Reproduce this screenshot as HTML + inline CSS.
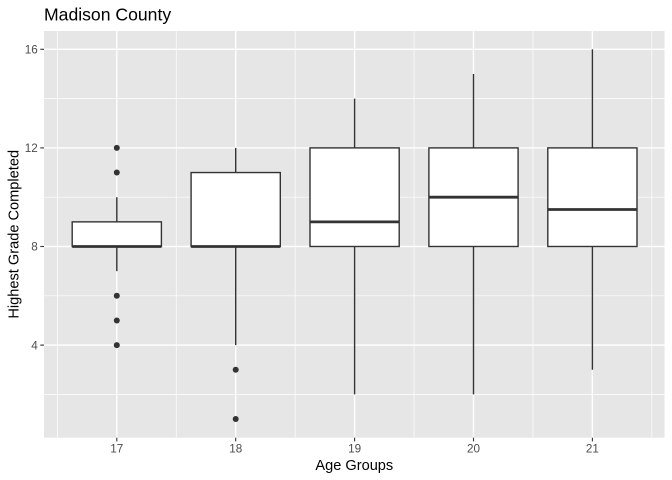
<!DOCTYPE html>
<html><head><meta charset="utf-8"><style>
html,body{margin:0;padding:0;background:#fff;}
svg{display:block;}
text{font-family:"Liberation Sans",Arial,sans-serif;}
</style></head><body>
<svg width="672" height="480" viewBox="0 0 672 480" xmlns="http://www.w3.org/2000/svg">
<rect x="0" y="0" width="672" height="480" fill="#fff"/>
<rect x="44" y="31" width="620.5" height="406.7" fill="#E6E6E6"/>
<g stroke="#fff" stroke-width="0.7">
<line x1="44" x2="664.5" y1="98.6" y2="98.6"/>
<line x1="44" x2="664.5" y1="197.2" y2="197.2"/>
<line x1="44" x2="664.5" y1="295.8" y2="295.8"/>
<line x1="44" x2="664.5" y1="394.4" y2="394.4"/>
<line y1="31" y2="437.7" x1="57.35" x2="57.35"/>
<line y1="31" y2="437.7" x1="176.25" x2="176.25"/>
<line y1="31" y2="437.7" x1="295.15" x2="295.15"/>
<line y1="31" y2="437.7" x1="414.05" x2="414.05"/>
<line y1="31" y2="437.7" x1="532.95" x2="532.95"/>
<line y1="31" y2="437.7" x1="651.85" x2="651.85"/>
</g>
<g stroke="#fff" stroke-width="1.4">
<line x1="44" x2="664.5" y1="49.3" y2="49.3"/>
<line x1="44" x2="664.5" y1="147.9" y2="147.9"/>
<line x1="44" x2="664.5" y1="246.5" y2="246.5"/>
<line x1="44" x2="664.5" y1="345.1" y2="345.1"/>
<line y1="31" y2="437.7" x1="116.8" x2="116.8"/>
<line y1="31" y2="437.7" x1="235.7" x2="235.7"/>
<line y1="31" y2="437.7" x1="354.6" x2="354.6"/>
<line y1="31" y2="437.7" x1="473.5" x2="473.5"/>
<line y1="31" y2="437.7" x1="592.4" x2="592.4"/>
</g>
<g stroke="#333" stroke-width="1.4" fill="#fff">
<line x1="116.8" x2="116.8" y1="197.2" y2="221.85"/>
<line x1="116.8" x2="116.8" y1="246.5" y2="271.15"/>
<rect x="72.2" y="221.85" width="89.2" height="24.65"/>
<line x1="235.7" x2="235.7" y1="147.9" y2="172.55"/>
<line x1="235.7" x2="235.7" y1="246.5" y2="345.1"/>
<rect x="191.1" y="172.55" width="89.2" height="73.95"/>
<line x1="354.6" x2="354.6" y1="98.6" y2="147.9"/>
<line x1="354.6" x2="354.6" y1="246.5" y2="394.4"/>
<rect x="310" y="147.9" width="89.2" height="98.6"/>
<line x1="473.5" x2="473.5" y1="73.95" y2="147.9"/>
<line x1="473.5" x2="473.5" y1="246.5" y2="394.4"/>
<rect x="428.9" y="147.9" width="89.2" height="98.6"/>
<line x1="592.4" x2="592.4" y1="49.3" y2="147.9"/>
<line x1="592.4" x2="592.4" y1="246.5" y2="369.75"/>
<rect x="547.8" y="147.9" width="89.2" height="98.6"/>
</g>
<g stroke="#333" stroke-width="2.8">
<line x1="72.2" x2="161.4" y1="246.5" y2="246.5"/>
<line x1="191.1" x2="280.3" y1="246.5" y2="246.5"/>
<line x1="310" x2="399.2" y1="221.85" y2="221.85"/>
<line x1="428.9" x2="518.1" y1="197.2" y2="197.2"/>
<line x1="547.8" x2="637" y1="209.5" y2="209.5"/>
</g>
<g fill="#333">
<circle cx="116.8" cy="147.9" r="3"/>
<circle cx="116.8" cy="172.55" r="3"/>
<circle cx="116.8" cy="295.8" r="3"/>
<circle cx="116.8" cy="320.45" r="3"/>
<circle cx="116.8" cy="345.1" r="3"/>
<circle cx="235.7" cy="369.75" r="3"/>
<circle cx="235.7" cy="419.05" r="3"/>
</g>
<g stroke="#333" stroke-width="1.1">
<line x1="40.3" x2="44" y1="49.3" y2="49.3"/>
<line x1="40.3" x2="44" y1="147.9" y2="147.9"/>
<line x1="40.3" x2="44" y1="246.5" y2="246.5"/>
<line x1="40.3" x2="44" y1="345.1" y2="345.1"/>
<line y1="437.7" y2="441.4" x1="116.8" x2="116.8"/>
<line y1="437.7" y2="441.4" x1="235.7" x2="235.7"/>
<line y1="437.7" y2="441.4" x1="354.6" x2="354.6"/>
<line y1="437.7" y2="441.4" x1="473.5" x2="473.5"/>
<line y1="437.7" y2="441.4" x1="592.4" x2="592.4"/>
</g>
<g fill="#4D4D4D" font-size="11.7px">
<text x="37.8" y="53.5" text-anchor="end">16</text>
<text x="37.8" y="152.1" text-anchor="end">12</text>
<text x="37.8" y="250.7" text-anchor="end">8</text>
<text x="37.8" y="349.3" text-anchor="end">4</text>
<text x="116.8" y="452.7" text-anchor="middle">17</text>
<text x="235.7" y="452.7" text-anchor="middle">18</text>
<text x="354.6" y="452.7" text-anchor="middle">19</text>
<text x="473.5" y="452.7" text-anchor="middle">20</text>
<text x="592.4" y="452.7" text-anchor="middle">21</text>
</g>
<text x="354.3" y="470" text-anchor="middle" font-size="14.6px" fill="#000">Age Groups</text>
<text transform="translate(18.5,234.3) rotate(-90)" text-anchor="middle" font-size="14.6px" fill="#000">Highest Grade Completed</text>
<text x="44" y="20.5" font-size="17.6px" fill="#000">Madison County</text>
</svg>
</body></html>
